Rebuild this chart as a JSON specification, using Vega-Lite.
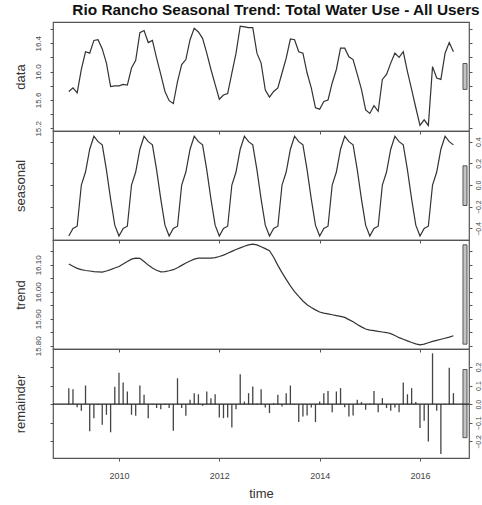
{
  "$schema": "https://vega.github.io/schema/vega-lite/v6.json",
  "autosize": {"type": "pad"},
  "padding": {"left": 13, "top": 3, "right": 0, "bottom": 0},
  "background": "white",
  "title": {"text": "Rio Rancho Seasonal Trend: Total Water Use - All Users", "fontSize": 15.4, "fontWeight": "bold", "font": "Liberation Sans", "color": "#111", "anchor": "middle", "frame": "group", "dx": 15, "offset": 3},
  "datasets": {
    "stl": [
      {"t": 2009.0, "data": 15.72, "seasonal": -0.47, "trend": 16.103, "remainder": 0.086},
      {"t": 2009.0833, "data": 15.77, "seasonal": -0.40, "trend": 16.095, "remainder": 0.08},
      {"t": 2009.1667, "data": 15.70, "seasonal": -0.38, "trend": 16.087, "remainder": -0.016},
      {"t": 2009.25, "data": 16.03, "seasonal": 0.0, "trend": 16.082, "remainder": -0.036},
      {"t": 2009.3333, "data": 16.28, "seasonal": 0.12, "trend": 16.079, "remainder": 0.10},
      {"t": 2009.4167, "data": 16.26, "seasonal": 0.33, "trend": 16.077, "remainder": -0.146},
      {"t": 2009.5, "data": 16.44, "seasonal": 0.45, "trend": 16.075, "remainder": -0.075},
      {"t": 2009.5833, "data": 16.45, "seasonal": 0.40, "trend": 16.074, "remainder": -0.005},
      {"t": 2009.6667, "data": 16.32, "seasonal": 0.37, "trend": 16.073, "remainder": -0.11},
      {"t": 2009.75, "data": 16.12, "seasonal": 0.14, "trend": 16.077, "remainder": -0.057},
      {"t": 2009.8333, "data": 15.79, "seasonal": -0.13, "trend": 16.082, "remainder": -0.151},
      {"t": 2009.9167, "data": 15.80, "seasonal": -0.37, "trend": 16.088, "remainder": 0.093},
      {"t": 2010.0, "data": 15.80, "seasonal": -0.47, "trend": 16.094, "remainder": 0.169},
      {"t": 2010.0833, "data": 15.82, "seasonal": -0.40, "trend": 16.103, "remainder": 0.116},
      {"t": 2010.1667, "data": 15.81, "seasonal": -0.38, "trend": 16.112, "remainder": 0.068},
      {"t": 2010.25, "data": 16.05, "seasonal": 0.0, "trend": 16.121, "remainder": -0.057},
      {"t": 2010.3333, "data": 16.16, "seasonal": 0.12, "trend": 16.125, "remainder": -0.062},
      {"t": 2010.4167, "data": 16.55, "seasonal": 0.33, "trend": 16.124, "remainder": 0.10},
      {"t": 2010.5, "data": 16.58, "seasonal": 0.45, "trend": 16.112, "remainder": 0.05},
      {"t": 2010.5833, "data": 16.41, "seasonal": 0.40, "trend": 16.099, "remainder": -0.075},
      {"t": 2010.6667, "data": 16.44, "seasonal": 0.37, "trend": 16.088, "remainder": -0.003},
      {"t": 2010.75, "data": 16.19, "seasonal": 0.14, "trend": 16.080, "remainder": -0.021},
      {"t": 2010.8333, "data": 15.96, "seasonal": -0.13, "trend": 16.074, "remainder": -0.027},
      {"t": 2010.9167, "data": 15.72, "seasonal": -0.37, "trend": 16.075, "remainder": -0.004},
      {"t": 2011.0, "data": 15.59, "seasonal": -0.47, "trend": 16.078, "remainder": -0.021},
      {"t": 2011.0833, "data": 15.55, "seasonal": -0.40, "trend": 16.082, "remainder": -0.143},
      {"t": 2011.1667, "data": 15.86, "seasonal": -0.38, "trend": 16.089, "remainder": 0.139},
      {"t": 2011.25, "data": 16.10, "seasonal": 0.0, "trend": 16.098, "remainder": -0.021},
      {"t": 2011.3333, "data": 16.17, "seasonal": 0.12, "trend": 16.107, "remainder": -0.062},
      {"t": 2011.4167, "data": 16.45, "seasonal": 0.33, "trend": 16.114, "remainder": 0.023},
      {"t": 2011.5, "data": 16.61, "seasonal": 0.45, "trend": 16.121, "remainder": 0.059},
      {"t": 2011.5833, "data": 16.56, "seasonal": 0.40, "trend": 16.125, "remainder": 0.053},
      {"t": 2011.6667, "data": 16.47, "seasonal": 0.37, "trend": 16.125, "remainder": -0.009},
      {"t": 2011.75, "data": 16.26, "seasonal": 0.14, "trend": 16.125, "remainder": 0.068},
      {"t": 2011.8333, "data": 16.03, "seasonal": -0.13, "trend": 16.125, "remainder": 0.032},
      {"t": 2011.9167, "data": 15.82, "seasonal": -0.37, "trend": 16.127, "remainder": 0.053},
      {"t": 2012.0, "data": 15.61, "seasonal": -0.47, "trend": 16.131, "remainder": -0.071},
      {"t": 2012.0833, "data": 15.67, "seasonal": -0.40, "trend": 16.136, "remainder": -0.075},
      {"t": 2012.1667, "data": 15.69, "seasonal": -0.38, "trend": 16.143, "remainder": -0.071},
      {"t": 2012.25, "data": 15.98, "seasonal": 0.0, "trend": 16.150, "remainder": -0.125},
      {"t": 2012.3333, "data": 16.26, "seasonal": 0.12, "trend": 16.157, "remainder": -0.027},
      {"t": 2012.4167, "data": 16.64, "seasonal": 0.33, "trend": 16.163, "remainder": 0.160},
      {"t": 2012.5, "data": 16.63, "seasonal": 0.45, "trend": 16.169, "remainder": 0.014},
      {"t": 2012.5833, "data": 16.62, "seasonal": 0.40, "trend": 16.174, "remainder": 0.059},
      {"t": 2012.6667, "data": 16.62, "seasonal": 0.37, "trend": 16.177, "remainder": 0.095},
      {"t": 2012.75, "data": 16.26, "seasonal": 0.14, "trend": 16.174, "remainder": 0.003},
      {"t": 2012.8333, "data": 16.12, "seasonal": -0.13, "trend": 16.167, "remainder": 0.080},
      {"t": 2012.9167, "data": 15.74, "seasonal": -0.37, "trend": 16.160, "remainder": -0.018},
      {"t": 2013.0, "data": 15.64, "seasonal": -0.47, "trend": 16.152, "remainder": -0.048},
      {"t": 2013.0833, "data": 15.72, "seasonal": -0.40, "trend": 16.128, "remainder": 0.005},
      {"t": 2013.1667, "data": 15.77, "seasonal": -0.38, "trend": 16.098, "remainder": 0.05},
      {"t": 2013.25, "data": 15.98, "seasonal": 0.0, "trend": 16.071, "remainder": -0.012},
      {"t": 2013.3333, "data": 16.19, "seasonal": 0.12, "trend": 16.046, "remainder": 0.059},
      {"t": 2013.4167, "data": 16.46, "seasonal": 0.33, "trend": 16.022, "remainder": 0.10},
      {"t": 2013.5, "data": 16.45, "seasonal": 0.45, "trend": 16.001, "remainder": -0.003},
      {"t": 2013.5833, "data": 16.28, "seasonal": 0.40, "trend": 15.983, "remainder": -0.096},
      {"t": 2013.6667, "data": 16.26, "seasonal": 0.37, "trend": 15.966, "remainder": -0.066},
      {"t": 2013.75, "data": 15.98, "seasonal": 0.14, "trend": 15.952, "remainder": -0.061},
      {"t": 2013.8333, "data": 15.77, "seasonal": -0.13, "trend": 15.942, "remainder": -0.018},
      {"t": 2013.9167, "data": 15.49, "seasonal": -0.37, "trend": 15.933, "remainder": -0.096},
      {"t": 2014.0, "data": 15.47, "seasonal": -0.47, "trend": 15.925, "remainder": 0.014},
      {"t": 2014.0833, "data": 15.58, "seasonal": -0.40, "trend": 15.921, "remainder": 0.059},
      {"t": 2014.1667, "data": 15.60, "seasonal": -0.38, "trend": 15.918, "remainder": 0.071},
      {"t": 2014.25, "data": 15.84, "seasonal": 0.0, "trend": 15.915, "remainder": -0.043},
      {"t": 2014.3333, "data": 16.03, "seasonal": 0.12, "trend": 15.912, "remainder": 0.068},
      {"t": 2014.4167, "data": 16.33, "seasonal": 0.33, "trend": 15.909, "remainder": 0.086},
      {"t": 2014.5, "data": 16.33, "seasonal": 0.45, "trend": 15.905, "remainder": -0.016},
      {"t": 2014.5833, "data": 16.21, "seasonal": 0.40, "trend": 15.897, "remainder": -0.066},
      {"t": 2014.6667, "data": 16.17, "seasonal": 0.37, "trend": 15.889, "remainder": -0.061},
      {"t": 2014.75, "data": 15.96, "seasonal": 0.14, "trend": 15.879, "remainder": 0.023},
      {"t": 2014.8333, "data": 15.75, "seasonal": -0.13, "trend": 15.870, "remainder": 0.011},
      {"t": 2014.9167, "data": 15.46, "seasonal": -0.37, "trend": 15.862, "remainder": -0.030},
      {"t": 2015.0, "data": 15.41, "seasonal": -0.47, "trend": 15.858, "remainder": 0.003},
      {"t": 2015.0833, "data": 15.52, "seasonal": -0.40, "trend": 15.856, "remainder": 0.071},
      {"t": 2015.1667, "data": 15.44, "seasonal": -0.38, "trend": 15.853, "remainder": -0.043},
      {"t": 2015.25, "data": 15.89, "seasonal": 0.0, "trend": 15.851, "remainder": 0.032},
      {"t": 2015.3333, "data": 15.96, "seasonal": 0.12, "trend": 15.849, "remainder": -0.021},
      {"t": 2015.4167, "data": 16.12, "seasonal": 0.33, "trend": 15.845, "remainder": -0.036},
      {"t": 2015.5, "data": 16.26, "seasonal": 0.45, "trend": 15.838, "remainder": -0.018},
      {"t": 2015.5833, "data": 16.20, "seasonal": 0.40, "trend": 15.830, "remainder": -0.043},
      {"t": 2015.6667, "data": 16.28, "seasonal": 0.37, "trend": 15.824, "remainder": 0.116},
      {"t": 2015.75, "data": 16.00, "seasonal": 0.14, "trend": 15.818, "remainder": 0.053},
      {"t": 2015.8333, "data": 15.75, "seasonal": -0.13, "trend": 15.812, "remainder": 0.086},
      {"t": 2015.9167, "data": 15.49, "seasonal": -0.37, "trend": 15.807, "remainder": 0.011},
      {"t": 2016.0, "data": 15.24, "seasonal": -0.47, "trend": 15.803, "remainder": -0.128},
      {"t": 2016.0833, "data": 15.32, "seasonal": -0.40, "trend": 15.806, "remainder": -0.089},
      {"t": 2016.1667, "data": 15.24, "seasonal": -0.38, "trend": 15.811, "remainder": -0.20},
      {"t": 2016.25, "data": 16.07, "seasonal": 0.0, "trend": 15.816, "remainder": 0.273},
      {"t": 2016.3333, "data": 15.91, "seasonal": 0.12, "trend": 15.820, "remainder": -0.036},
      {"t": 2016.4167, "data": 15.89, "seasonal": 0.33, "trend": 15.824, "remainder": -0.267},
      {"t": 2016.5, "data": 16.26, "seasonal": 0.45, "trend": 15.828, "remainder": -0.003},
      {"t": 2016.5833, "data": 16.41, "seasonal": 0.40, "trend": 15.832, "remainder": 0.196},
      {"t": 2016.6667, "data": 16.28, "seasonal": 0.37, "trend": 15.837, "remainder": 0.059}
    ],
    "bars": [
      {"p": "data", "x1": 2016.857, "x2": 2016.937, "lo": 15.749, "hi": 16.114},
      {"p": "seasonal", "x1": 2016.857, "x2": 2016.937, "lo": -0.189, "hi": 0.177},
      {"p": "trend", "x1": 2016.857, "x2": 2016.937, "lo": 15.806, "hi": 16.174},
      {"p": "remainder", "x1": 2016.857, "x2": 2016.937, "lo": -0.18, "hi": 0.186},
      {"p": "zero", "x1": 2016.857, "x2": 2016.937, "lo": 0, "hi": 0}
    ]
  },
  "vconcat": [
    {
      "width": 416, "height": 109,
      "layer": [
        {
          "data": {"name": "stl"},
          "mark": {"type": "line", "color": "#333", "strokeWidth": 1.2},
          "encoding": {
            "x": {"field": "t", "type": "quantitative", "scale": {"domain": [2008.685, 2016.977], "nice": false, "zero": false},
                  "axis": {"values": [2010, 2012, 2014, 2016], "labels": false, "title": null, "tickSize": 3}},
            "y": {"field": "data", "type": "quantitative", "scale": {"domain": [15.162, 16.70], "nice": false, "zero": false},
                  "axis": {"orient": "left", "values": [15.2, 15.4, 15.6, 15.8, 16.0, 16.2, 16.4, 16.6], "labelExpr": "round(datum.value*10)%4==0 ? format(datum.value,'.1f') : ''", "labelAngle": -90, "labelFontSize": 8, "labelPadding": 8, "tickSize": 3, "title": "data", "titleFontSize": 13, "titleX": -26}}
          }
        },
        {
          "data": {"name": "bars"},
          "transform": [{"filter": "datum.p == 'data'"}],
          "mark": {"type": "rect", "fill": "#c4c4c4", "stroke": "#555", "strokeWidth": 1},
          "encoding": {
            "x": {"field": "x1", "type": "quantitative"},
            "x2": {"field": "x2"},
            "y": {"field": "lo", "type": "quantitative", "scale": {"domain": [15.162, 16.70], "nice": false, "zero": false},
                  "axis": {"orient": "right", "values": [15.2, 15.4, 15.6, 15.8, 16.0, 16.2, 16.4, 16.6], "labels": false, "tickSize": 3, "title": null}},
            "y2": {"field": "hi"}
          }
        }
      ],
      "resolve": {"axis": {"y": "independent"}}
    },
    {
      "width": 416, "height": 109,
      "layer": [
        {
          "data": {"name": "stl"},
          "mark": {"type": "line", "color": "#333", "strokeWidth": 1.2},
          "encoding": {
            "x": {"field": "t", "type": "quantitative", "scale": {"domain": [2008.685, 2016.977], "nice": false, "zero": false},
                  "axis": {"values": [2010, 2012, 2014, 2016], "labels": false, "title": null, "tickSize": 3}},
            "y": {"field": "seasonal", "type": "quantitative", "scale": {"domain": [-0.507, 0.498], "nice": false, "zero": false},
                  "axis": {"orient": "left", "values": [-0.4, -0.2, 0, 0.2, 0.4], "labels": false, "tickSize": 3, "title": "seasonal", "titleFontSize": 13, "titleX": -26}}
          }
        },
        {
          "data": {"name": "bars"},
          "transform": [{"filter": "datum.p == 'seasonal'"}],
          "mark": {"type": "rect", "fill": "#c4c4c4", "stroke": "#555", "strokeWidth": 1},
          "encoding": {
            "x": {"field": "x1", "type": "quantitative"},
            "x2": {"field": "x2"},
            "y": {"field": "lo", "type": "quantitative", "scale": {"domain": [-0.507, 0.498], "nice": false, "zero": false},
                  "axis": {"orient": "right", "values": [-0.4, -0.2, 0, 0.2, 0.4], "format": ".1f", "labelAngle": -90, "labelFontSize": 7, "labelPadding": 2, "tickSize": 3, "title": null}},
            "y2": {"field": "hi"}
          }
        }
      ],
      "resolve": {"axis": {"y": "independent"}}
    },
    {
      "width": 416, "height": 109,
      "layer": [
        {
          "data": {"name": "stl"},
          "mark": {"type": "line", "color": "#333", "strokeWidth": 1.2},
          "encoding": {
            "x": {"field": "t", "type": "quantitative", "scale": {"domain": [2008.685, 2016.977], "nice": false, "zero": false},
                  "axis": {"values": [2010, 2012, 2014, 2016], "labels": false, "title": null, "tickSize": 3}},
            "y": {"field": "trend", "type": "quantitative", "scale": {"domain": [15.788, 16.192], "nice": false, "zero": false},
                  "axis": {"orient": "left", "values": [15.8, 15.85, 15.9, 15.95, 16.0, 16.05, 16.1, 16.15], "labelExpr": "round(datum.value*100)%10==0 ? format(datum.value,'.2f') : ''", "labelAngle": -90, "labelFontSize": 8, "labelPadding": 8, "tickSize": 3, "title": "trend", "titleFontSize": 13, "titleX": -26}}
          }
        },
        {
          "data": {"name": "bars"},
          "transform": [{"filter": "datum.p == 'trend'"}],
          "mark": {"type": "rect", "fill": "#c4c4c4", "stroke": "#555", "strokeWidth": 1},
          "encoding": {
            "x": {"field": "x1", "type": "quantitative"},
            "x2": {"field": "x2"},
            "y": {"field": "lo", "type": "quantitative", "scale": {"domain": [15.788, 16.192], "nice": false, "zero": false},
                  "axis": {"orient": "right", "values": [15.8, 15.85, 15.9, 15.95, 16.0, 16.05, 16.1, 16.15], "labels": false, "tickSize": 3, "title": null}},
            "y2": {"field": "hi"}
          }
        }
      ],
      "resolve": {"axis": {"y": "independent"}}
    },
    {
      "width": 416, "height": 109,
      "layer": [
        {
          "data": {"name": "stl"},
          "mark": {"type": "rule", "color": "#444", "strokeWidth": 1.3},
          "encoding": {
            "x": {"field": "t", "type": "quantitative", "scale": {"domain": [2008.685, 2016.977], "nice": false, "zero": false},
                  "axis": {"values": [2010, 2012, 2014, 2016], "format": "d", "labelFontSize": 9, "labelPadding": 10, "tickSize": 3, "title": "time", "titleFontSize": 13, "titlePadding": 7}},
            "y": {"field": "remainder", "type": "quantitative", "scale": {"domain": [-0.289, 0.296], "nice": false, "zero": false},
                  "axis": {"orient": "left", "values": [-0.2, -0.1, 0, 0.1, 0.2], "labels": false, "tickSize": 3, "title": "remainder", "titleFontSize": 13, "titleX": -26}},
            "y2": {"datum": 0}
          }
        },
        {
          "data": {"name": "bars"},
          "transform": [{"filter": "datum.p == 'remainder'"}],
          "mark": {"type": "rect", "fill": "#c4c4c4", "stroke": "#555", "strokeWidth": 1},
          "encoding": {
            "x": {"field": "x1", "type": "quantitative"},
            "x2": {"field": "x2"},
            "y": {"field": "lo", "type": "quantitative", "scale": {"domain": [-0.289, 0.296], "nice": false, "zero": false},
                  "axis": {"orient": "right", "values": [-0.2, -0.1, 0, 0.1, 0.2], "format": ".1f", "labelAngle": -90, "labelFontSize": 7, "labelPadding": 2, "tickSize": 3, "title": null}},
            "y2": {"field": "hi"}
          }
        },
        {
          "data": {"name": "bars"},
          "transform": [{"filter": "datum.p == 'zero'"}],
          "mark": {"type": "rule", "color": "#222", "strokeWidth": 1.3},
          "encoding": {
            "y": {"field": "lo", "type": "quantitative", "scale": {"domain": [-0.289, 0.296], "nice": false, "zero": false}, "axis": null}
          }
        }
      ],
      "resolve": {"axis": {"y": "independent"}}
    }
  ],
  "spacing": 0,
  "bounds": "flush",
  "config": {
    "font": "Liberation Sans",
    "view": {"stroke": "#555", "strokeWidth": 1.2},
    "axis": {"grid": false, "domain": false, "tickColor": "#555", "labelColor": "#444", "titleColor": "#333", "labelFont": "Liberation Sans", "titleFont": "Liberation Sans", "titleFontWeight": "normal"}
  }
}
